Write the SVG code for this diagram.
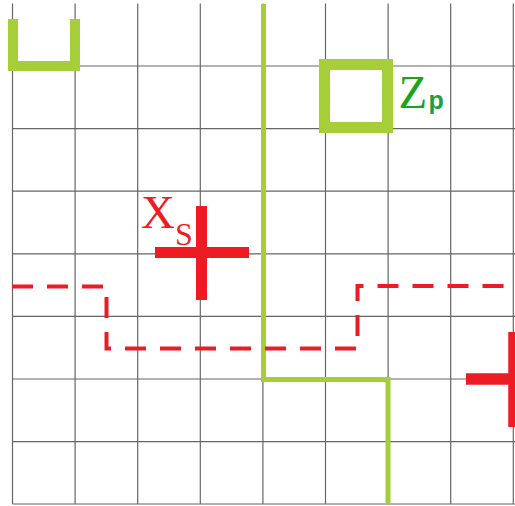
<svg xmlns="http://www.w3.org/2000/svg" width="515" height="506" viewBox="0 0 515 506">
<style>
.grid{stroke:#666;stroke-width:1.2;fill:none}
.g{stroke:#a6ce39;fill:none}
.r{stroke:#ed1c24;fill:none}
.dash{stroke:#ed1c24;stroke-width:4;fill:none;stroke-dasharray:21 14}
.serif{font-family:"Liberation Serif","Times New Roman",serif}
.sans{font-family:"Liberation Sans",Arial,sans-serif;font-weight:bold}
</style>
<rect width="515" height="506" fill="#fff"/>
<g id="grid" class="grid">
<path d="M12.5 3.5V504M75.1 3.5V504M137.7 3.5V504M200.3 3.5V504M262.9 3.5V504M325.5 3.5V504M388.1 3.5V504M450.7 3.5V504M513.3 3.5V504"/>
<path d="M12.5 66H515M12.5 128.6H515M12.5 191.2H515M12.5 253.8H515M12.5 316.4H515M12.5 379H515M12.5 441.6H515M12.5 504H515"/>
</g>
<g id="connectors">
<path class="g" stroke-width="5" d="M263.5 4V379.5H388V504"/>
<path class="dash" d="M12 286.5H106.5V348.5H357.5V286H515"/>
</g>
<g id="u-shape">
<path class="g" stroke-width="10" d="M13 19V66H75V19"/>
</g>
<g id="zp-node">
<rect class="g" stroke-width="11" x="324.5" y="64.5" width="63" height="63"/>
<text x="398.5" y="108" class="serif" font-size="47" fill="#1aa51a">Z</text>
<text x="428.5" y="109" class="sans" font-size="25" fill="#1e9e45">p</text>
</g>
<g id="xs-node">
<path class="r" stroke-width="11" d="M155 252.5H249M201.5 206V300"/>
<text x="141" y="228" class="serif" font-size="47" fill="#ed1c24">X</text>
<text x="175" y="245" class="serif" font-size="32" fill="#ed1c24">S</text>
</g>
<g id="right-cross">
<path class="r" stroke-width="11.5" d="M466 379H520M514 332V427"/>
</g>
</svg>
